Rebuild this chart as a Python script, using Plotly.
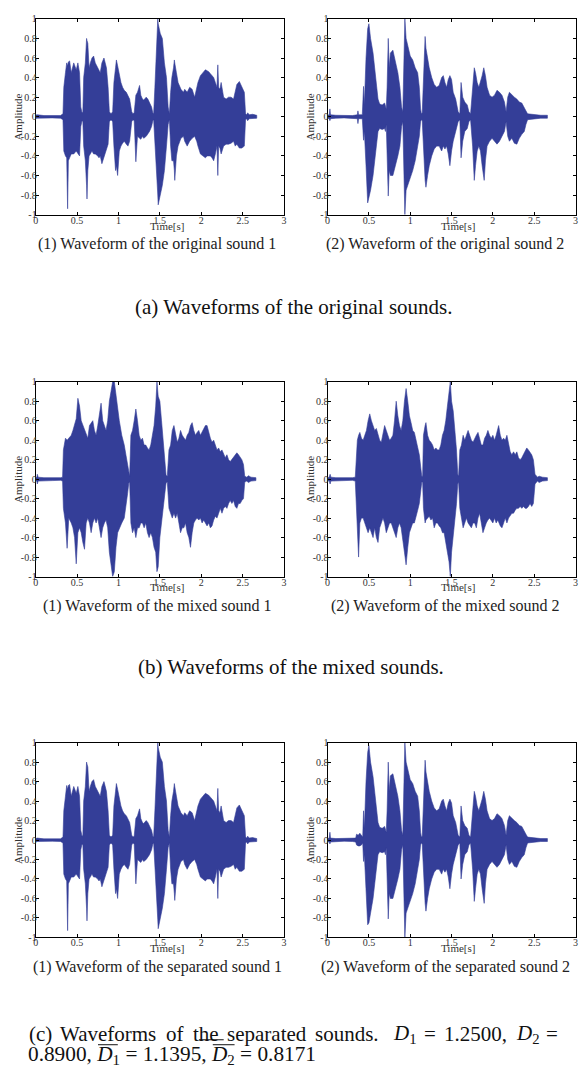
import plotly.graph_objects as go

# ---------------- data (envelope of each waveform: time, upper, lower) ----------------
ORIG_1 = [
    (0.00, 0.015, -0.015), (0.02, 0.02, -0.02), (0.10, 0.012, -0.015), (0.20, 0.015, -0.012), (0.30, 0.012, -0.015), (0.33, 0.03, -0.03),
    (0.34, 0.30, -0.35), (0.36, 0.45, -0.40), (0.375, 0.55, -0.42), (0.386, 0.52, -0.94), (0.395, 0.56, -0.45), (0.41, 0.57, -0.42),
    (0.43, 0.45, -0.38), (0.46, 0.55, -0.38), (0.49, 0.48, -0.35), (0.51, 0.55, -0.38), (0.53, 0.45, -0.40), (0.545, 0.10, -0.10),
    (0.56, 0.04, -0.04), (0.57, 0.05, -0.05),
    (0.58, 0.40, -0.30), (0.60, 0.55, -0.45), (0.615, 0.80, -0.70), (0.62, 0.78, -0.84), (0.63, 0.75, -0.55), (0.645, 0.50, -0.40),
    (0.66, 0.55, -0.38), (0.68, 0.60, -0.35), (0.70, 0.62, -0.38), (0.72, 0.55, -0.38), (0.75, 0.50, -0.40), (0.765, 0.47, -0.42),
    (0.78, 0.45, -0.40), (0.80, 0.55, -0.48), (0.825, 0.60, -0.40), (0.855, 0.50, -0.33), (0.875, 0.30, -0.28), (0.89, 0.05, -0.05),
    (0.91, 0.03, -0.03), (0.93, 0.05, -0.05),
    (0.945, 0.35, -0.30), (0.965, 0.50, -0.55), (0.975, 0.58, -0.50), (0.99, 0.52, -0.60), (1.01, 0.42, -0.35), (1.03, 0.35, -0.30),
    (1.05, 0.30, -0.27), (1.07, 0.27, -0.25), (1.095, 0.25, -0.28), (1.115, 0.22, -0.30), (1.135, 0.18, -0.25), (1.16, 0.05, -0.05),
    (1.175, 0.03, -0.03), (1.19, 0.04, -0.04),
    (1.20, 0.20, -0.20), (1.21, 0.22, -0.46), (1.23, 0.25, -0.20), (1.255, 0.32, -0.22), (1.27, 0.22, -0.23), (1.29, 0.18, -0.20),
    (1.305, 0.17, -0.22), (1.335, 0.20, -0.20), (1.355, 0.18, -0.18), (1.375, 0.15, -0.15), (1.40, 0.10, -0.10), (1.415, 0.04, -0.04),
    (1.425, 0.03, -0.03),
    (1.44, 0.30, -0.30), (1.455, 0.55, -0.50), (1.475, 1.00, -0.80), (1.48, 0.95, -0.90), (1.505, 0.85, -0.80), (1.53, 0.80, -0.70),
    (1.555, 0.55, -0.55), (1.58, 0.40, -0.30), (1.60, 0.10, -0.08),
    (1.615, 0.03, -0.03),
    (1.63, 0.25, -0.30), (1.645, 0.40, -0.45), (1.665, 0.50, -0.45), (1.675, 0.58, -0.55), (1.68, 0.55, -0.65), (1.70, 0.45, -0.40),
    (1.72, 0.35, -0.30), (1.755, 0.28, -0.22), (1.785, 0.25, -0.20), (1.80, 0.28, -0.25), (1.83, 0.25, -0.30), (1.86, 0.30, -0.25),
    (1.89, 0.28, -0.22), (1.92, 0.20, -0.20), (1.945, 0.30, -0.25),
    (1.96, 0.35, -0.30), (1.99, 0.42, -0.38), (2.02, 0.45, -0.40), (2.05, 0.48, -0.42), (2.07, 0.47, -0.40), (2.09, 0.46, -0.40),
    (2.11, 0.44, -0.40), (2.13, 0.42, -0.42), (2.15, 0.40, -0.45), (2.17, 0.35, -0.38), (2.19, 0.30, -0.30), (2.20, 0.53, -0.60),
    (2.21, 0.30, -0.30), (2.225, 0.28, -0.32), (2.24, 0.35, -0.38), (2.27, 0.20, -0.30), (2.30, 0.18, -0.28), (2.33, 0.20, -0.28),
    (2.36, 0.20, -0.27), (2.39, 0.18, -0.25), (2.41, 0.25, -0.30), (2.43, 0.33, -0.28), (2.46, 0.36, -0.32), (2.49, 0.30, -0.32),
    (2.52, 0.25, -0.30), (2.535, 0.03, -0.03),
    (2.55, 0.02, -0.02), (2.56, 0.04, -0.04), (2.58, 0.02, -0.02), (2.62, 0.025, -0.02), (2.67, 0.015, -0.015),
]

ORIG_2 = [
    (0.00, 0.015, -0.015), (0.02, 0.02, -0.02), (0.028, 0.08, -0.04), (0.035, 0.02, -0.02), (0.10, 0.015, -0.015), (0.20, 0.015, -0.012),
    (0.30, 0.012, -0.015), (0.36, 0.02, -0.02), (0.367, 0.06, -0.07), (0.375, 0.02, -0.02), (0.42, 0.02, -0.02),
    (0.435, 0.31, -0.24), (0.445, 0.12, -0.15), (0.465, 0.60, -0.50), (0.485, 0.90, -0.88), (0.50, 0.95, -0.85), (0.52, 0.80, -0.75),
    (0.55, 0.65, -0.60), (0.57, 0.50, -0.45), (0.59, 0.35, -0.30), (0.61, 0.18, -0.15), (0.63, 0.13, -0.12), (0.66, 0.12, -0.13),
    (0.69, 0.14, -0.12), (0.70, 0.10, -0.15), (0.71, 0.08, -0.08),
    (0.72, 0.30, -0.30), (0.734, 0.80, -0.81), (0.745, 0.50, -0.55), (0.76, 0.65, -0.60), (0.79, 0.68, -0.60), (0.82, 0.55, -0.50),
    (0.85, 0.45, -0.40), (0.875, 0.30, -0.30), (0.895, 0.10, -0.10),
    (0.91, 0.05, -0.05),
    (0.925, 0.60, -0.55), (0.935, 1.00, -1.00), (0.95, 0.80, -0.75), (0.97, 0.72, -0.70), (1.00, 0.62, -0.62), (1.03, 0.58, -0.55),
    (1.06, 0.50, -0.45), (1.09, 0.45, -0.30), (1.11, 0.30, -0.20), (1.125, 0.08, -0.05),
    (1.135, 0.03, -0.03), (1.145, 0.04, -0.04),
    (1.16, 0.40, -0.35), (1.18, 0.82, -0.65), (1.19, 0.70, -0.72), (1.21, 0.60, -0.60), (1.23, 0.50, -0.50), (1.26, 0.40, -0.40),
    (1.29, 0.33, -0.33), (1.32, 0.30, -0.30), (1.35, 0.32, -0.30), (1.38, 0.40, -0.35), (1.40, 0.42, -0.30), (1.42, 0.35, -0.33),
    (1.44, 0.30, -0.30), (1.46, 0.38, -0.38), (1.48, 0.42, -0.50), (1.50, 0.38, -0.35), (1.52, 0.25, -0.25), (1.55, 0.18, -0.15),
    (1.58, 0.05, -0.05),
    (1.60, 0.03, -0.03),
    (1.615, 0.35, -0.42), (1.635, 0.20, -0.25), (1.66, 0.15, -0.15), (1.69, 0.12, -0.12), (1.71, 0.05, -0.05),
    (1.73, 0.03, -0.03),
    (1.755, 0.25, -0.30), (1.775, 0.50, -0.65), (1.79, 0.45, -0.50), (1.81, 0.35, -0.35), (1.83, 0.30, -0.30), (1.85, 0.35, -0.35),
    (1.87, 0.42, -0.50), (1.89, 0.50, -0.62), (1.895, 0.48, -0.65), (1.91, 0.42, -0.45), (1.93, 0.30, -0.30), (1.96, 0.22, -0.25),
    (1.99, 0.20, -0.22), (2.02, 0.22, -0.25), (2.05, 0.27, -0.28), (2.08, 0.25, -0.25), (2.11, 0.22, -0.20), (2.14, 0.15, -0.15),
    (2.16, 0.05, -0.05),
    (2.18, 0.20, -0.20), (2.20, 0.25, -0.25), (2.23, 0.22, -0.22), (2.26, 0.20, -0.27), (2.29, 0.18, -0.28), (2.32, 0.15, -0.22),
    (2.35, 0.14, -0.18), (2.38, 0.10, -0.15), (2.40, 0.06, -0.08), (2.42, 0.03, -0.03),
    (2.50, 0.02, -0.02), (2.58, 0.015, -0.015), (2.66, 0.015, -0.015),
]

MIXED_1 = [
    (0.00, 0.015, -0.015), (0.015, 0.02, -0.02), (0.02, 0.05, -0.05), (0.03, 0.02, -0.02), (0.10, 0.015, -0.015), (0.20, 0.012, -0.015),
    (0.30, 0.015, -0.012), (0.325, 0.02, -0.02),
    (0.335, 0.30, -0.30), (0.36, 0.42, -0.45), (0.38, 0.40, -0.71), (0.40, 0.42, -0.40), (0.43, 0.45, -0.45), (0.45, 0.50, -0.50),
    (0.47, 0.55, -0.60), (0.49, 0.62, -0.87), (0.51, 0.83, -0.55), (0.53, 0.75, -0.50), (0.55, 0.60, -0.55), (0.57, 0.55, -0.65),
    (0.59, 0.50, -0.72), (0.61, 0.45, -0.45), (0.63, 0.42, -0.40), (0.65, 0.55, -0.45), (0.67, 0.58, -0.55), (0.69, 0.60, -0.45),
    (0.71, 0.50, -0.40), (0.73, 0.45, -0.45), (0.75, 0.55, -0.40), (0.77, 0.65, -0.50), (0.79, 0.78, -0.60), (0.81, 0.60, -0.50),
    (0.83, 0.55, -0.45), (0.85, 0.50, -0.42), (0.87, 0.60, -0.50), (0.89, 0.80, -0.75), (0.91, 0.90, -0.85), (0.93, 1.00, -1.00),
    (0.95, 1.00, -0.95), (0.97, 0.85, -0.70), (0.99, 0.75, -0.55), (1.01, 0.60, -0.50), (1.04, 0.45, -0.45), (1.07, 0.35, -0.40),
    (1.09, 0.25, -0.30), (1.11, 0.15, -0.15), (1.125, 0.04, -0.04),
    (1.135, 0.03, -0.03),
    (1.15, 0.45, -0.45), (1.17, 0.50, -0.55), (1.19, 0.60, -0.50), (1.21, 0.72, -0.60), (1.23, 0.60, -0.50), (1.25, 0.45, -0.50),
    (1.27, 0.40, -0.45), (1.29, 0.42, -0.45), (1.31, 0.35, -0.50), (1.33, 0.35, -0.45), (1.35, 0.32, -0.55), (1.37, 0.30, -0.60),
    (1.39, 0.35, -0.55), (1.41, 0.45, -0.60), (1.43, 0.55, -0.70), (1.45, 0.75, -0.75), (1.465, 1.00, -0.95), (1.48, 0.85, -0.90),
    (1.50, 0.80, -0.60), (1.52, 0.60, -0.45), (1.54, 0.40, -0.30), (1.56, 0.20, -0.15), (1.575, 0.04, -0.04),
    (1.59, 0.03, -0.03),
    (1.61, 0.30, -0.30), (1.63, 0.35, -0.35), (1.65, 0.50, -0.40), (1.67, 0.55, -0.35), (1.69, 0.45, -0.40), (1.71, 0.38, -0.35),
    (1.73, 0.42, -0.45), (1.75, 0.50, -0.55), (1.77, 0.45, -0.50), (1.79, 0.42, -0.50), (1.81, 0.40, -0.45), (1.83, 0.45, -0.55),
    (1.85, 0.48, -0.60), (1.87, 0.55, -0.70), (1.89, 0.58, -0.55), (1.91, 0.50, -0.45), (1.93, 0.45, -0.42), (1.95, 0.48, -0.40),
    (1.97, 0.50, -0.42), (1.99, 0.45, -0.40), (2.01, 0.48, -0.45), (2.03, 0.52, -0.42), (2.05, 0.55, -0.45), (2.07, 0.55, -0.48),
    (2.09, 0.48, -0.45), (2.11, 0.42, -0.50), (2.13, 0.38, -0.48), (2.15, 0.40, -0.42), (2.17, 0.35, -0.38), (2.19, 0.30, -0.40),
    (2.21, 0.32, -0.35), (2.23, 0.28, -0.30), (2.25, 0.30, -0.35), (2.27, 0.25, -0.30), (2.29, 0.22, -0.28), (2.31, 0.25, -0.30),
    (2.33, 0.20, -0.25), (2.35, 0.18, -0.22), (2.37, 0.20, -0.25), (2.39, 0.22, -0.22), (2.41, 0.25, -0.28), (2.43, 0.27, -0.30),
    (2.45, 0.25, -0.25), (2.47, 0.22, -0.25), (2.49, 0.20, -0.22), (2.51, 0.15, -0.20), (2.525, 0.03, -0.03),
    (2.55, 0.02, -0.02), (2.57, 0.035, -0.035), (2.60, 0.02, -0.02), (2.66, 0.015, -0.015),
]

MIXED_2 = [
    (0.00, 0.015, -0.015), (0.02, 0.02, -0.02), (0.03, 0.05, -0.05), (0.04, 0.02, -0.02), (0.10, 0.015, -0.015), (0.20, 0.012, -0.015),
    (0.30, 0.015, -0.012), (0.335, 0.02, -0.02),
    (0.345, 0.25, -0.30), (0.36, 0.40, -0.50), (0.375, 0.45, -0.80), (0.39, 0.48, -0.45), (0.41, 0.42, -0.40), (0.43, 0.40, -0.40),
    (0.45, 0.45, -0.45), (0.47, 0.50, -0.50), (0.49, 0.60, -0.55), (0.51, 0.67, -0.50), (0.53, 0.60, -0.55), (0.55, 0.55, -0.60),
    (0.57, 0.50, -0.50), (0.59, 0.52, -0.60), (0.61, 0.45, -0.65), (0.63, 0.40, -0.50), (0.65, 0.38, -0.45), (0.67, 0.45, -0.40),
    (0.69, 0.55, -0.45), (0.71, 0.50, -0.55), (0.73, 0.45, -0.50), (0.75, 0.40, -0.45), (0.77, 0.42, -0.45), (0.79, 0.45, -0.50),
    (0.81, 0.60, -0.55), (0.83, 0.80, -0.60), (0.85, 0.65, -0.50), (0.87, 0.55, -0.45), (0.89, 0.50, -0.50), (0.91, 0.60, -0.60),
    (0.93, 0.80, -0.75), (0.95, 0.93, -0.88), (0.97, 0.80, -0.70), (0.99, 0.65, -0.55), (1.01, 0.58, -0.50), (1.03, 0.50, -0.45),
    (1.05, 0.48, -0.45), (1.07, 0.40, -0.40), (1.09, 0.35, -0.32), (1.11, 0.25, -0.25), (1.13, 0.10, -0.10), (1.14, 0.03, -0.03),
    (1.15, 0.03, -0.03),
    (1.16, 0.45, -0.30), (1.18, 0.55, -0.45), (1.19, 0.58, -0.42), (1.21, 0.45, -0.40), (1.23, 0.40, -0.38), (1.25, 0.38, -0.42),
    (1.27, 0.35, -0.40), (1.29, 0.30, -0.50), (1.31, 0.32, -0.45), (1.33, 0.30, -0.45), (1.35, 0.30, -0.48), (1.37, 0.35, -0.50),
    (1.39, 0.45, -0.55), (1.41, 0.50, -0.55), (1.43, 0.60, -0.65), (1.45, 0.75, -0.75), (1.47, 0.90, -0.85), (1.485, 1.00, -1.00),
    (1.50, 0.80, -0.75), (1.52, 0.70, -0.60), (1.54, 0.50, -0.40), (1.56, 0.30, -0.25), (1.575, 0.05, -0.05),
    (1.585, 0.03, -0.03),
    (1.60, 0.30, -0.30), (1.62, 0.35, -0.40), (1.64, 0.45, -0.50), (1.66, 0.40, -0.45), (1.68, 0.45, -0.40), (1.70, 0.50, -0.45),
    (1.72, 0.45, -0.48), (1.74, 0.40, -0.50), (1.76, 0.38, -0.45), (1.78, 0.42, -0.45), (1.80, 0.45, -0.50), (1.82, 0.48, -0.40),
    (1.84, 0.40, -0.35), (1.86, 0.35, -0.45), (1.88, 0.35, -0.55), (1.90, 0.42, -0.50), (1.92, 0.45, -0.45), (1.94, 0.50, -0.42),
    (1.96, 0.45, -0.40), (1.98, 0.42, -0.42), (2.00, 0.45, -0.45), (2.02, 0.40, -0.40), (2.04, 0.45, -0.45), (2.06, 0.52, -0.42),
    (2.07, 0.55, -0.45), (2.09, 0.45, -0.48), (2.11, 0.40, -0.50), (2.13, 0.42, -0.45), (2.15, 0.40, -0.40), (2.17, 0.45, -0.45),
    (2.19, 0.35, -0.40), (2.21, 0.28, -0.38), (2.23, 0.25, -0.35), (2.25, 0.28, -0.35), (2.27, 0.25, -0.32), (2.29, 0.28, -0.30),
    (2.31, 0.22, -0.30), (2.33, 0.20, -0.28), (2.35, 0.22, -0.30), (2.37, 0.25, -0.28), (2.39, 0.28, -0.30), (2.41, 0.32, -0.30),
    (2.43, 0.30, -0.28), (2.45, 0.28, -0.25), (2.47, 0.25, -0.28), (2.49, 0.20, -0.25), (2.51, 0.05, -0.05),
    (2.54, 0.02, -0.02), (2.56, 0.03, -0.035), (2.60, 0.02, -0.02), (2.66, 0.015, -0.015),
]

SEP_1 = [
    (0.00, 0.015, -0.015), (0.02, 0.02, -0.02), (0.10, 0.012, -0.015), (0.20, 0.015, -0.012), (0.30, 0.012, -0.015), (0.33, 0.03, -0.03),
    (0.34, 0.30, -0.35), (0.36, 0.45, -0.40), (0.375, 0.56, -0.42), (0.386, 0.52, -0.93), (0.395, 0.56, -0.45), (0.41, 0.57, -0.42),
    (0.43, 0.45, -0.38), (0.46, 0.55, -0.38), (0.49, 0.48, -0.35), (0.51, 0.55, -0.38), (0.53, 0.45, -0.40), (0.545, 0.10, -0.10),
    (0.56, 0.04, -0.04), (0.57, 0.05, -0.05),
    (0.58, 0.40, -0.30), (0.60, 0.55, -0.45), (0.615, 0.80, -0.70), (0.62, 0.78, -0.83), (0.63, 0.75, -0.55), (0.645, 0.50, -0.40),
    (0.66, 0.55, -0.38), (0.68, 0.60, -0.35), (0.70, 0.62, -0.38), (0.72, 0.55, -0.38), (0.75, 0.50, -0.40), (0.765, 0.47, -0.42),
    (0.78, 0.45, -0.40), (0.80, 0.55, -0.48), (0.825, 0.60, -0.40), (0.855, 0.50, -0.33), (0.875, 0.30, -0.28), (0.89, 0.05, -0.05),
    (0.91, 0.03, -0.03), (0.93, 0.05, -0.05),
    (0.945, 0.35, -0.30), (0.965, 0.50, -0.55), (0.975, 0.58, -0.50), (0.99, 0.52, -0.60), (1.01, 0.42, -0.35), (1.03, 0.35, -0.30),
    (1.05, 0.30, -0.27), (1.07, 0.27, -0.25), (1.095, 0.25, -0.28), (1.115, 0.22, -0.30), (1.135, 0.18, -0.25), (1.16, 0.05, -0.05),
    (1.175, 0.03, -0.03), (1.19, 0.04, -0.04),
    (1.20, 0.20, -0.20), (1.21, 0.22, -0.45), (1.23, 0.25, -0.20), (1.255, 0.32, -0.22), (1.27, 0.22, -0.23), (1.29, 0.18, -0.20),
    (1.305, 0.17, -0.22), (1.335, 0.20, -0.20), (1.355, 0.18, -0.18), (1.375, 0.15, -0.15), (1.40, 0.10, -0.10), (1.415, 0.04, -0.04),
    (1.425, 0.03, -0.03),
    (1.44, 0.30, -0.30), (1.455, 0.55, -0.50), (1.475, 1.00, -0.82), (1.48, 0.95, -0.91), (1.505, 0.85, -0.80), (1.53, 0.80, -0.70),
    (1.555, 0.55, -0.55), (1.58, 0.40, -0.30), (1.60, 0.10, -0.08),
    (1.615, 0.03, -0.03),
    (1.63, 0.25, -0.30), (1.645, 0.40, -0.45), (1.665, 0.50, -0.45), (1.675, 0.58, -0.55), (1.68, 0.55, -0.62), (1.70, 0.45, -0.40),
    (1.72, 0.35, -0.30), (1.755, 0.28, -0.22), (1.785, 0.25, -0.20), (1.80, 0.28, -0.25), (1.83, 0.25, -0.30), (1.86, 0.30, -0.25),
    (1.89, 0.28, -0.22), (1.92, 0.20, -0.20), (1.945, 0.30, -0.25),
    (1.96, 0.35, -0.30), (1.99, 0.42, -0.38), (2.02, 0.45, -0.40), (2.05, 0.48, -0.42), (2.07, 0.47, -0.40), (2.09, 0.46, -0.40),
    (2.11, 0.44, -0.40), (2.13, 0.42, -0.42), (2.15, 0.40, -0.45), (2.17, 0.35, -0.38), (2.19, 0.30, -0.30), (2.20, 0.53, -0.60),
    (2.21, 0.30, -0.30), (2.225, 0.28, -0.32), (2.24, 0.35, -0.38), (2.27, 0.20, -0.30), (2.30, 0.18, -0.28), (2.33, 0.20, -0.28),
    (2.36, 0.20, -0.27), (2.39, 0.18, -0.25), (2.41, 0.25, -0.30), (2.43, 0.33, -0.28), (2.46, 0.36, -0.32), (2.49, 0.30, -0.32),
    (2.52, 0.25, -0.30), (2.535, 0.03, -0.03),
    (2.55, 0.02, -0.02), (2.56, 0.04, -0.04), (2.58, 0.02, -0.02), (2.62, 0.025, -0.02), (2.67, 0.015, -0.015),
]

SEP_2 = [
    (0.00, 0.015, -0.015), (0.02, 0.02, -0.02), (0.028, 0.08, -0.04), (0.035, 0.02, -0.02), (0.10, 0.015, -0.015), (0.20, 0.015, -0.012),
    (0.30, 0.015, -0.015), (0.34, 0.02, -0.02), (0.35, 0.06, -0.05), (0.37, 0.05, -0.06), (0.39, 0.07, -0.06), (0.41, 0.05, -0.05),
    (0.425, 0.03, -0.03),
    (0.435, 0.30, -0.22), (0.445, 0.12, -0.15), (0.465, 0.60, -0.50), (0.485, 0.90, -0.87), (0.50, 0.97, -0.85), (0.52, 0.80, -0.75),
    (0.55, 0.65, -0.60), (0.57, 0.50, -0.45), (0.59, 0.35, -0.30), (0.61, 0.18, -0.15), (0.63, 0.13, -0.12), (0.66, 0.12, -0.13),
    (0.69, 0.14, -0.12), (0.70, 0.10, -0.15), (0.71, 0.08, -0.08),
    (0.72, 0.30, -0.30), (0.734, 0.80, -0.81), (0.745, 0.50, -0.55), (0.76, 0.66, -0.60), (0.79, 0.68, -0.60), (0.82, 0.55, -0.50),
    (0.85, 0.45, -0.40), (0.875, 0.30, -0.30), (0.895, 0.10, -0.10),
    (0.91, 0.05, -0.05),
    (0.925, 0.60, -0.55), (0.935, 1.00, -1.00), (0.95, 0.80, -0.75), (0.97, 0.72, -0.70), (1.00, 0.62, -0.62), (1.03, 0.58, -0.55),
    (1.06, 0.50, -0.45), (1.09, 0.45, -0.30), (1.11, 0.30, -0.20), (1.125, 0.08, -0.05),
    (1.135, 0.03, -0.03), (1.145, 0.04, -0.04),
    (1.16, 0.40, -0.35), (1.18, 0.82, -0.65), (1.19, 0.70, -0.73), (1.21, 0.60, -0.60), (1.23, 0.50, -0.50), (1.26, 0.40, -0.40),
    (1.29, 0.33, -0.33), (1.32, 0.30, -0.30), (1.35, 0.32, -0.30), (1.38, 0.40, -0.35), (1.40, 0.42, -0.30), (1.42, 0.35, -0.33),
    (1.44, 0.30, -0.30), (1.46, 0.38, -0.38), (1.48, 0.42, -0.50), (1.50, 0.38, -0.35), (1.52, 0.25, -0.25), (1.55, 0.18, -0.15),
    (1.58, 0.05, -0.05),
    (1.60, 0.03, -0.03),
    (1.615, 0.35, -0.40), (1.635, 0.20, -0.25), (1.66, 0.15, -0.15), (1.69, 0.12, -0.12), (1.71, 0.05, -0.05),
    (1.73, 0.03, -0.03),
    (1.755, 0.25, -0.30), (1.775, 0.50, -0.63), (1.79, 0.45, -0.50), (1.81, 0.35, -0.35), (1.83, 0.30, -0.30), (1.85, 0.35, -0.35),
    (1.87, 0.42, -0.50), (1.89, 0.50, -0.62), (1.895, 0.48, -0.65), (1.91, 0.42, -0.45), (1.93, 0.30, -0.30), (1.96, 0.22, -0.25),
    (1.99, 0.20, -0.22), (2.02, 0.22, -0.25), (2.05, 0.27, -0.28), (2.08, 0.25, -0.25), (2.11, 0.22, -0.20), (2.14, 0.15, -0.15),
    (2.16, 0.05, -0.05),
    (2.18, 0.20, -0.20), (2.20, 0.25, -0.25), (2.23, 0.22, -0.22), (2.26, 0.20, -0.27), (2.29, 0.18, -0.28), (2.32, 0.15, -0.22),
    (2.35, 0.14, -0.18), (2.38, 0.10, -0.15), (2.40, 0.06, -0.08), (2.42, 0.03, -0.03),
    (2.50, 0.02, -0.02), (2.58, 0.015, -0.015), (2.66, 0.015, -0.015),
]

PANELS = [ORIG_1, ORIG_2, MIXED_1, MIXED_2, SEP_1, SEP_2]
SUB_CAPTIONS = [
    "(1) Waveform of the original sound 1", "(2) Waveform of the original sound 2",
    "(1) Waveform of the mixed sound 1", "(2) Waveform of the mixed sound 2",
    "(1) Waveform of the separated sound 1", "(2) Waveform of the separated sound 2",
]
MAIN_CAPTIONS = ["(a) Waveforms of the original sounds.", "(b) Waveforms of the mixed sounds."]
CAPTION_C_LINE1 = ["(c)", "Waveforms", "of", "the", "separated", "sounds.",
                   "<i>D</i><sub>1</sub>", "=", "1.2500,", "<i>D</i><sub>2</sub>", "="]
CAPTION_C_LINE2 = "0.8900, <i>D</i><sub>1</sub> = 1.1395, <i>D</i><sub>2</sub> = 0.8171"

X_TICKS = [0, 0.5, 1, 1.5, 2, 2.5, 3]
X_TICK_TEXT = ["0", "0.5", "1", "1.5", "2", "2.5", "3"]
Y_TICKS = [-1, -0.8, -0.6, -0.4, -0.2, 0, 0.2, 0.4, 0.6, 0.8, 1]
Y_TICK_TEXT = ["-1", "-0.8", "-0.6", "-0.4", "-0.2", "0", "0.2", "0.4", "0.6", "0.8", "1"]

# ---------------- layout constants ----------------
W, H = 579, 1070
C = "#343e98"
FONT = "Liberation Serif, Times New Roman, serif"
COL_PX = [(33, 284), (328, 578.5)]
ROW_PX = [(13, 211), (380, 577), (745, 942)]


def fx(p):
    return p / W


def fy(p):
    return 1 - p / H


fig = go.Figure()
layout = dict(
    width=W, height=H, margin=dict(l=0, r=0, t=0, b=0),
    paper_bgcolor="white", plot_bgcolor="white", showlegend=False,
    font=dict(family=FONT, size=10, color="#333"),
)
annotations = []

for i, env in enumerate(PANELS):
    r, c = divmod(i, 2)
    n = "" if i == 0 else str(i + 1)
    t = [p[0] for p in env]
    up = [p[1] for p in env]
    lo = [p[2] for p in env]
    fig.add_trace(go.Scatter(
        x=t + t[::-1], y=up + lo[::-1], mode="lines", fill="toself",
        fillcolor=C, line=dict(color=C, width=0.6),
        xaxis="x" + n, yaxis="y" + n, hoverinfo="skip",
    ))
    x0, x1 = COL_PX[c]
    y0, y1 = ROW_PX[r]
    common = dict(showline=True, linecolor="black", linewidth=1, mirror="allticks",
                  ticks="inside", ticklen=3, tickcolor="black", tickwidth=1,
                  showgrid=False, zeroline=False,
                  tickfont=dict(family=FONT, size=10, color="#333"))
    layout["xaxis" + n] = dict(domain=[fx(x0), fx(x1)], anchor="y" + n, range=[0, 3],
                               tickvals=X_TICKS, ticktext=X_TICK_TEXT, ticklabelstandoff=-4, **common)
    layout["yaxis" + n] = dict(domain=[fy(y1), fy(y0)], anchor="x" + n, range=[-1, 1],
                               tickvals=Y_TICKS, ticktext=Y_TICK_TEXT, ticklabelstandoff=-4, **common)
    # axis titles
    annotations.append(dict(text="Amplitude", x=fx(x0 - 18), y=fy((y0 + y1) / 2), xref="paper", yref="paper",
                            textangle=-90, showarrow=False, xanchor="center", yanchor="middle",
                            font=dict(family=FONT, size=11, color="#333")))
    annotations.append(dict(text="Time[s]", x=fx((x0 + x1) / 2 + 7), y=fy(y1 + 11), xref="paper", yref="paper",
                            showarrow=False, xanchor="center", yanchor="middle",
                            font=dict(family=FONT, size=11, color="#333")))
    # sub caption
    cx = [156, 447][c]
    annotations.append(dict(text=SUB_CAPTIONS[i], x=fx(cx), y=fy(y1 + 30), xref="paper", yref="paper",
                            showarrow=False, xanchor="center", yanchor="middle",
                            font=dict(family=FONT, size=16, color="#222")))

for k, txt in enumerate(MAIN_CAPTIONS):
    annotations.append(dict(text=txt, x=fx([294, 291][k]), y=fy([304, 669][k]), xref="paper", yref="paper",
                            showarrow=False, xanchor="center", yanchor="middle",
                            font=dict(family=FONT, size=21, color="#111")))

WORD_X = [24, 56, 163, 190, 224.5, 313, 392, 423.5, 444, 516, 547]
for wx, word in zip(WORD_X, CAPTION_C_LINE1):
    annotations.append(dict(text=word, x=fx(wx), y=fy(1040), xref="paper", yref="paper",
                            showarrow=False, xanchor="left", yanchor="middle",
                            font=dict(family=FONT, size=21, color="#111")))
annotations.append(dict(text=CAPTION_C_LINE2, x=fx(23), y=fy(1061), xref="paper", yref="paper",
                        showarrow=False, xanchor="left", yanchor="middle",
                        font=dict(family=FONT, size=21.3, color="#111")))

# overline bars of the caption's D-bar symbols (and the stray rule under "the")
RULES_PX = [(96, 116, 1050.5), (212, 234, 1050.5), (198, 223, 1045.5)]
shapes = [dict(type="line", xref="paper", yref="paper", x0=fx(a), x1=fx(b), y0=fy(yy), y1=fy(yy),
               line=dict(color="#111", width=1)) for a, b, yy in RULES_PX]
layout["annotations"] = annotations
layout["shapes"] = shapes
fig.update_layout(**layout)
fig.write_html("out.html", config={"displayModeBar": False},
               post_script="document.body.style.margin='0';document.body.style.overflow='hidden';")
